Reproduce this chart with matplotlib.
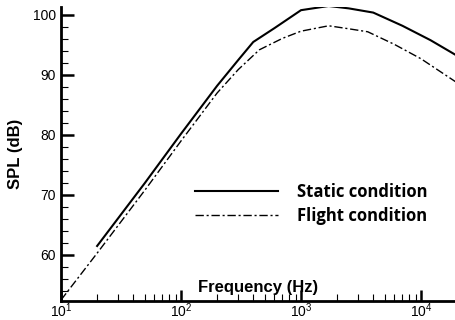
import matplotlib
matplotlib.use("Agg")
import matplotlib.pyplot as plt
from matplotlib.ticker import LogLocator, MultipleLocator

plt.rcParams["font.family"] = "Liberation Sans"
plt.rcParams["mathtext.fontset"] = "custom"
plt.rcParams["mathtext.rm"] = "Liberation Sans"
plt.rcParams["mathtext.it"] = "Liberation Sans"

# static condition spectrum
static_freq = [20, 50, 100, 200, 300, 400, 600, 1000, 1700, 2500, 4000, 7000, 12000, 20000]
static_spl = [61.5, 72.0, 80.2, 88.2, 92.5, 95.5, 97.8, 100.8, 101.5, 101.1, 100.4, 98.2, 95.8, 93.2]

# flight condition spectrum
flight_freq = [10, 20, 50, 100, 200, 300, 450, 700, 1000, 1700, 2500, 3600, 6000, 10000, 20000]
flight_spl = [52.5, 60.3, 70.8, 79.0, 87.0, 90.9, 94.2, 96.1, 97.3, 98.2, 97.7, 97.2, 95.1, 92.7, 88.7]

labels = ["Static condition", "Flight condition"]

fig = plt.figure(figsize=(4.55, 3.2), dpi=100)
ax = fig.add_axes([61 / 455, 19 / 320, 394 / 455, 294 / 320])

ax.plot(static_freq, static_spl, color="black", lw=1.5, label=labels[0])
ax.plot(flight_freq, flight_spl, color="black", lw=1.0,
        linestyle=(0, (6, 2, 1.5, 2)), label=labels[1])

ax.set_xscale("log")
ax.set_xlim(10, 19200)
ax.set_ylim(52.33, 101.33)
ax.yaxis.set_major_locator(MultipleLocator(10))
ax.yaxis.set_minor_locator(MultipleLocator(2))
ax.xaxis.set_major_locator(LogLocator(base=10))
ax.xaxis.set_minor_locator(LogLocator(base=10, subs=range(2, 10)))

for s in ["top", "right"]:
    ax.spines[s].set_visible(False)
for s in ["left", "bottom"]:
    ax.spines[s].set_linewidth(2)

ax.tick_params(which="major", direction="in", length=9, width=1.8, labelsize=10)
ax.tick_params(axis="x", which="major", length=8, labelsize=10, pad=0.5)
ax.tick_params(which="minor", direction="in", length=5, width=0.8)

ax.set_ylabel("SPL (dB)", fontsize=12, fontweight="bold")
ax.yaxis.set_label_coords(-0.096, 0.5)
ax.set_xlabel("Frequency (Hz)", fontsize=12, fontweight="bold")
ax.xaxis.label.set_va("center")
ax.xaxis.set_label_coords(0.5, 0.047)

ax.legend(loc="upper left", bbox_to_anchor=(195 / 455, 1 - 183 / 320),
          bbox_transform=fig.transFigure, frameon=False, borderpad=0,
          borderaxespad=0, handlelength=5.0, handletextpad=1.1, labelspacing=0.35,
          prop={"family": "Open Sans", "weight": "bold", "size": 12})

fig.savefig("out.png", dpi=100)
